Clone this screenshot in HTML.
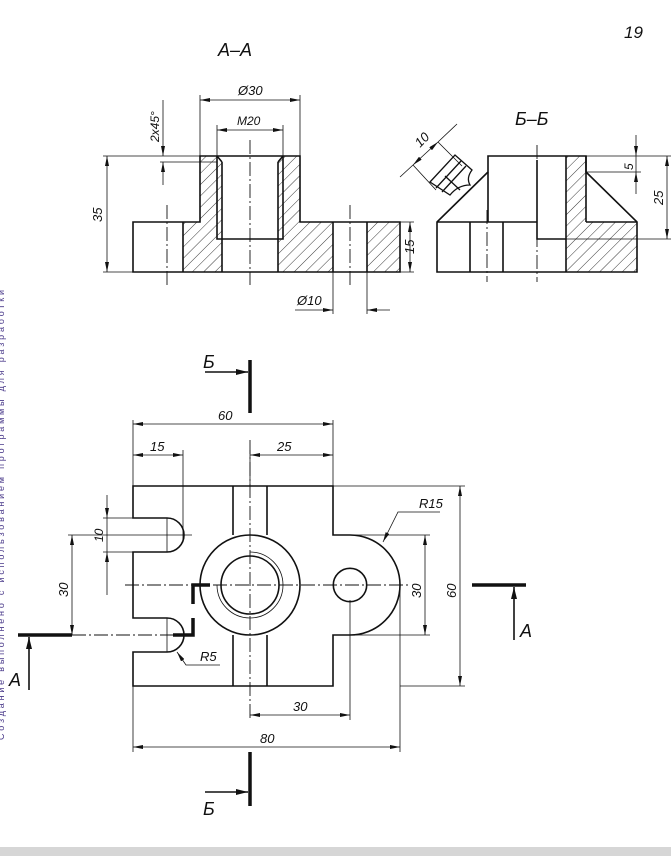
<!DOCTYPE html>
<html><head><meta charset="utf-8"><style>
html,body{margin:0;padding:0;background:#fff;}
svg{display:block;}
text{font-family:"Liberation Sans",sans-serif;font-style:italic;fill:#111;}
</style></head><body>
<svg width="671" height="856" viewBox="0 0 671 856" xmlns="http://www.w3.org/2000/svg">
<defs>
<marker id="ar" viewBox="0 0 10 4" refX="10" refY="2" markerWidth="10" markerHeight="4" markerUnits="userSpaceOnUse" orient="auto-start-reverse"><path d="M0,0 L10,2 L0,4 Z" fill="#111"/></marker>
<marker id="ab" viewBox="0 0 12 6" refX="12" refY="3" markerWidth="12" markerHeight="7" markerUnits="userSpaceOnUse" orient="auto"><path d="M0,0 L12,3 L0,6 Z" fill="#111"/></marker>
<pattern id="h" patternUnits="userSpaceOnUse" width="8" height="8" patternTransform="rotate(45)"><line x1="0" y1="0" x2="0" y2="8" stroke="#222" stroke-width="0.9"/></pattern>
</defs>
<rect x="0" y="847" width="671" height="9" fill="#d6d6d6"/>
<text x="4" y="740" font-size="9" fill="#5a3a8a" style="fill:#4a3a8a;font-style:normal" transform="rotate(-90 4 740)" textLength="450">Создание выполнено с использованием программы для разработки</text>
<text x="624" y="38" font-size="17">19</text>

<!-- A-A -->
<text x="218" y="56" font-size="18">А–А</text>
<g fill="url(#h)" stroke="none">
<path d="M183,222 H200 V156 H222 V272 H183 Z"/>
<path d="M278,156 H300 V222 H333 V272 H278 Z"/>
<rect x="367" y="222" width="33" height="50"/>
</g>
<g fill="none" stroke="#111" stroke-width="1.6">
<path d="M133,222 H200 V156 H300 V222 H400 V272 H133 Z"/>
<path d="M217,156 V239 H283 V156"/>
<path d="M222,162 V272 M278,162 V272 M217,156 L222,162 M283,156 L278,162"/>
<path d="M183,222 V272 M333,222 V272 M367,222 V272"/>
</g>
<g stroke="#111" stroke-width="0.9" fill="none" stroke-dasharray="14,3,2,3">
<path d="M250,140 V285 M167,205 V285 M350,205 V288"/>
</g>
<g stroke="#111" stroke-width="0.8" fill="none">
<path d="M200,95 V156 M300,95 V156 M217,125 V156 M283,125 V156"/>
<path d="M200,100 H300" marker-start="url(#ar)" marker-end="url(#ar)"/>
<path d="M217,130 H283" marker-start="url(#ar)" marker-end="url(#ar)"/>
<path d="M103,156 H200 M103,272 H133 M160,162 H217 M400,222 H414 M400,272 H414"/>
<path d="M107,156 V272" marker-start="url(#ar)" marker-end="url(#ar)"/>
<path d="M410,222 V272" marker-start="url(#ar)" marker-end="url(#ar)"/>
<path d="M163,100 V156" marker-end="url(#ar)"/>
<path d="M163,185 V162" marker-end="url(#ar)"/>
<path d="M333,272 V314 M367,272 V314"/>
<path d="M295,310 H333" marker-end="url(#ar)"/>
<path d="M390,310 H367" marker-end="url(#ar)"/>
</g>
<text x="238" y="95" font-size="13">Ø30</text>
<text x="237" y="125" font-size="12">M20</text>
<text x="102" y="222" font-size="13" transform="rotate(-90 102 222)">35</text>
<text x="159" y="142" font-size="12" transform="rotate(-90 159 142)">2x45°</text>
<text x="414" y="254" font-size="13" transform="rotate(-90 414 254)">15</text>
<text x="297" y="305" font-size="13">Ø10</text>

<!-- B-B -->
<text x="515" y="125" font-size="18">Б–Б</text>
<path d="M566,156 H586 V222 H637 V272 H566 Z" fill="url(#h)"/>
<g fill="none" stroke="#111" stroke-width="1.6">
<path d="M437,272 V222 L488,172 V156 H586 V172 L637,222 V272 Z"/>
<path d="M437,222 H537 M586,222 H637 M488,172 V222 M470,222 V272 M503,222 V272 M537,160 V239 H566 M566,156 V272 M586,156 V222"/>
</g>
<g stroke="#111" stroke-width="0.9" fill="none" stroke-dasharray="14,3,2,3">
<path d="M487,210 V282 M537,145 V282"/>
</g>
<g stroke="#111" stroke-width="0.8" fill="none">
<path d="M586,156 H672 M586,172 H641 M566,239 H672"/>
<path d="M636,135 V156" marker-end="url(#ar)"/>
<path d="M636,194 V172" marker-end="url(#ar)"/>
<path d="M636,156 V172"/>
<path d="M667,156 V239" marker-start="url(#ar)" marker-end="url(#ar)"/>
<path d="M400,177 L413,165" />
<path d="M426,153 L413,165" marker-end="url(#ar)"/>
<path d="M426,153 L438,142" marker-end="url(#ar)"/>
<path d="M438,142 L457,124"/>
<path d="M413,165 L436,190 M438,142 L462,166"/>
</g>
<g fill="none" stroke="#111" stroke-width="1.3">
<path d="M430,182 L455,155 L472,170 Q466,178 470,185 Q458,185 450,195 Z"/>
<path d="M436,188 L461,161 M442,192 L466,166 M445,176 L460,190"/>
</g>
<text x="420" y="148" font-size="13" transform="rotate(-45 420 148)">10</text>
<text x="633" y="170" font-size="12" transform="rotate(-90 633 170)">5</text>
<text x="663" y="205" font-size="13" transform="rotate(-90 663 205)">25</text>

<!-- plan -->
<g fill="none" stroke="#111" stroke-width="1.6">
<path d="M133,486 H333 V535 H350 A50,50 0 0 1 350,635 H333 V686 H133 V652 H167 A17,17 0 0 0 167,618 H133 V552 H167 A17,17 0 0 0 167,518 H133 Z"/>
<path d="M233,486 V535 M267,486 V535 M233,635 V686 M267,635 V686"/>
<circle cx="250" cy="585" r="50"/>
<circle cx="250" cy="585" r="29"/>
<circle cx="350" cy="585" r="16.7"/>
</g>
<path d="M250,552 A33,33 0 1 1 217,585" fill="none" stroke="#111" stroke-width="0.8"/>
<g stroke="#111" stroke-width="0.8" fill="none">
<path d="M167,518 V552 M167,618 V652"/>
</g>
<g stroke="#111" stroke-width="0.9" fill="none" stroke-dasharray="14,3,2,3">
<path d="M125,585 H410 M250,440 V720 M72,635 H190"/>
</g>
<g stroke="#111" stroke-width="3.5" fill="none">
<path d="M210,585 H193 V604"/>
<path d="M193,618 V635 H173"/>
<path d="M250,360 V413 M250,752 V806 M18,635 H72 M472,585 H526"/>
</g>
<g stroke="#111" stroke-width="1.6" fill="none">
<path d="M205,372 H248" marker-end="url(#ab)"/>
<path d="M205,792 H248" marker-end="url(#ab)"/>
<path d="M29,690 V637" marker-end="url(#ab)"/>
<path d="M514,640 V587" marker-end="url(#ab)"/>
</g>
<text x="203" y="368" font-size="18">Б</text>
<text x="203" y="815" font-size="18">Б</text>
<text x="9" y="686" font-size="18">А</text>
<text x="520" y="637" font-size="18">А</text>
<g stroke="#111" stroke-width="0.8" fill="none">
<path d="M133,420 V486 M333,420 V486 M183,450 V540 M250,450 V486"/>
<path d="M133,424 H333" marker-start="url(#ar)" marker-end="url(#ar)"/>
<path d="M133,455 H183" marker-start="url(#ar)" marker-end="url(#ar)"/>
<path d="M250,455 H333" marker-start="url(#ar)" marker-end="url(#ar)"/>
<path d="M133,686 V752 M400,585 V752 M350,600 V720"/>
<path d="M133,747 H400" marker-start="url(#ar)" marker-end="url(#ar)"/>
<path d="M250,715 H350" marker-start="url(#ar)" marker-end="url(#ar)"/>
<path d="M350,535 H430 M350,635 H430 M333,486 H465 M400,686 H465"/>
<path d="M425,535 V635" marker-start="url(#ar)" marker-end="url(#ar)"/>
<path d="M460,486 V686" marker-start="url(#ar)" marker-end="url(#ar)"/>
<path d="M68,535 H192"/>
<path d="M72,535 V635" marker-start="url(#ar)" marker-end="url(#ar)"/>
<path d="M103,518 H133 M103,552 H133 M107,575 V595"/>
<path d="M107,495 V518" marker-end="url(#ar)"/>
<path d="M107,575 V552" marker-end="url(#ar)"/>
<path d="M107,518 V552"/>
<path d="M440,512 H398 L383,542" marker-end="url(#ar)"/>
<path d="M220,665 H186 L177,652" marker-end="url(#ar)"/>
</g>
<text x="218" y="420" font-size="13">60</text>
<text x="150" y="451" font-size="13">15</text>
<text x="277" y="451" font-size="13">25</text>
<text x="260" y="743" font-size="13">80</text>
<text x="293" y="711" font-size="13">30</text>
<text x="419" y="508" font-size="13">R15</text>
<text x="200" y="661" font-size="13">R5</text>
<text x="68" y="597" font-size="13" transform="rotate(-90 68 597)">30</text>
<text x="103" y="542" font-size="12" transform="rotate(-90 103 542)">10</text>
<text x="421" y="598" font-size="13" transform="rotate(-90 421 598)">30</text>
<text x="456" y="598" font-size="13" transform="rotate(-90 456 598)">60</text>
</svg>
</body></html>
